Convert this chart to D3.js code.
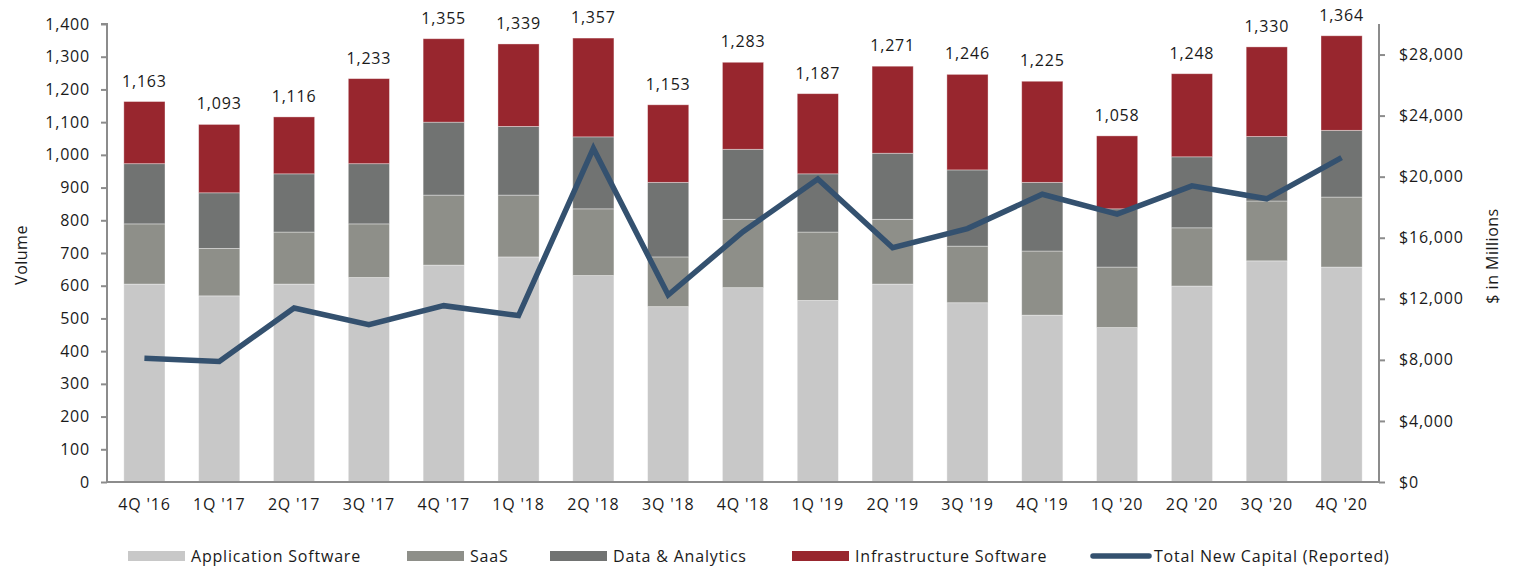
<!DOCTYPE html>
<html><head><meta charset="utf-8">
<script src="https://cdn.jsdelivr.net/npm/d3@7"></script>
<style>
html,body{margin:0;padding:0;background:#fff;}
svg{display:block;}
text{font-family:"Open Sans",sans-serif;fill:#1a1a1a;}
</style></head>
<body><svg id="chart" width="1520" height="569"></svg>
<script>
const categories = ["4Q '16","1Q '17","2Q '17","3Q '17","4Q '17","1Q '18","2Q '18","3Q '18","4Q '18","1Q '19","2Q '19","3Q '19","4Q '19","1Q '20","2Q '20","3Q '20","4Q '20"];
const applicationSoftware = [605,569,605,625,663,688,631,536,594,555,605,548,510,472,599,676,657];
const saas = [184,145,159,164,214,189,204,152,209,209,198,173,196,185,178,183,214];
const dataAnalytics = [184,170,178,184,223,210,220,228,214,178,202,233,210,178,217,197,204];
const infrastructureSoftware = [190,209,174,260,255,252,302,237,266,245,266,292,309,223,254,274,289];
const totalNewCapital = [8100,7900,11400,10300,11550,10900,21850,12250,16400,19850,15350,16600,18850,17550,19400,18550,21250];
const leftTicks = [0,100,200,300,400,500,600,700,800,900,1000,1100,1200,1300,1400];
const rightTicks = [0,4000,8000,12000,16000,20000,24000,28000];
const seriesNames = ["Application Software","SaaS","Data & Analytics","Infrastructure Software"];
const lineName = "Total New Capital (Reported)";
const colors = ["#c8c8c8","#8e8f89","#717372","#98262e"];
const lineColor = "#34516f";

const svg = d3.select("#chart");
const L = 107, R = 1379, T = 24, B = 482;
const FS = "16px", LS = "0.8px";

const x = d3.scaleBand().domain(categories).range([L,R]).paddingInner(0.45).paddingOuter(0.225);
const y = d3.scaleLinear().domain([0,1400]).range([B,T]);
const y2 = d3.scaleLinear().domain([0,30000]).range([B,T]);

const rows = categories.map((c,i)=>({cat:c, s0:applicationSoftware[i], s1:saas[i], s2:dataAnalytics[i], s3:infrastructureSoftware[i]}));
const stack = d3.stack().keys(["s0","s1","s2","s3"])(rows);

const g = svg.append("g");
stack.forEach((layer,k)=>{
  g.selectAll(null).data(layer).enter().append("rect")
    .attr("x", d=>x(d.data.cat))
    .attr("width", x.bandwidth())
    .attr("y", d=>y(d[1]))
    .attr("height", d=>y(d[0])-y(d[1]))
    .attr("fill", colors[k])
    .attr("stroke","#ffffff").attr("stroke-opacity",0.45).attr("stroke-width",0.8);
});

// totals labels
g.selectAll(null).data(rows).enter().append("text")
  .attr("x", d=>x(d.cat)+x.bandwidth()/2)
  .attr("y", d=>y(d.s0+d.s1+d.s2+d.s3)-15)
  .attr("text-anchor","middle")
  .style("font-size",FS).style("letter-spacing",LS)
  .text(d=>d3.format(",")(d.s0+d.s1+d.s2+d.s3));

// axes
const axisColor = "#8c8c8c";
const yAxis = svg.append("g").attr("transform",`translate(${L},0)`)
  .call(d3.axisLeft(y).tickValues(leftTicks).tickFormat(d3.format(",")).tickSize(6).tickPadding(11));
const y2Axis = svg.append("g").attr("transform",`translate(${R},0)`)
  .call(d3.axisRight(y2).tickValues(rightTicks).tickFormat(d=>"$"+d3.format(",")(d)).tickSize(6).tickPadding(14));
const xAxis = svg.append("g").attr("transform",`translate(0,${B})`)
  .call(d3.axisBottom(x).tickSize(0).tickPadding(17));
[yAxis,y2Axis,xAxis].forEach(a=>{
  a.select(".domain").attr("stroke",axisColor).attr("stroke-width",2);
  a.selectAll(".tick line").attr("stroke",axisColor).attr("stroke-width",2);
  a.selectAll("text").style("font-family","'Open Sans',sans-serif").style("font-size",FS).style("letter-spacing",LS).attr("fill","#1a1a1a");
});
yAxis.select(".domain").attr("d",`M-6,${T}H0V${B}`);
y2Axis.select(".domain").attr("d",`M0,${T}V${B}`);
xAxis.select(".domain").attr("d",`M${L},0H${R}`);

// line
const line = d3.line().x((d,i)=>x(categories[i])+x.bandwidth()/2).y(d=>y2(d));
svg.append("path").datum(totalNewCapital).attr("d",line)
  .attr("fill","none").attr("stroke",lineColor).attr("stroke-width",5.5).attr("stroke-linejoin","miter");

// axis titles
svg.append("text").attr("transform",`translate(27,255) rotate(-90)`).attr("text-anchor","middle")
  .style("font-size",FS).style("letter-spacing","0.5px").text("Volume");
svg.append("text").attr("transform",`translate(1498,256) rotate(-90)`).attr("text-anchor","middle")
  .style("font-size",FS).style("letter-spacing","0.5px").text("$ in Millions");

// legend
const legendItems = [
  {name:seriesNames[0], type:"rect", color:colors[0], x0:128},
  {name:seriesNames[1], type:"rect", color:colors[1], x0:407},
  {name:seriesNames[2], type:"rect", color:colors[2], x0:550},
  {name:seriesNames[3], type:"rect", color:colors[3], x0:792},
  {name:lineName, type:"line", color:lineColor, x0:1091}
];
const lg = svg.append("g");
const li = lg.selectAll(null).data(legendItems).enter().append("g").attr("transform",d=>`translate(${d.x0},556)`);
li.filter(d=>d.type==="rect").append("rect").attr("x",0).attr("y",-5).attr("width",57).attr("height",10).attr("fill",d=>d.color);
li.filter(d=>d.type==="line").append("line").attr("x1",2).attr("x2",58).attr("y1",0).attr("y2",0)
  .attr("stroke",d=>d.color).attr("stroke-width",5.5).attr("stroke-linecap","round");
li.append("text").attr("x",63).attr("y",5.5)
  .style("font-size",FS).style("letter-spacing",LS).text(d=>d.name);
</script></body></html>
